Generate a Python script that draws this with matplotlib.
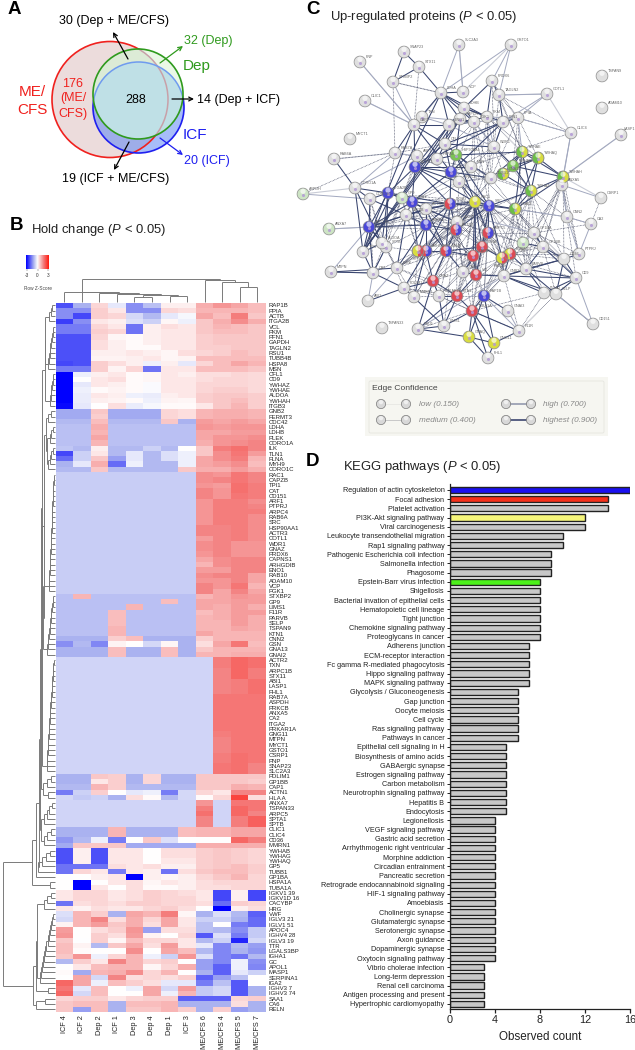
import matplotlib
matplotlib.use("Agg")
import matplotlib.pyplot as plt
import numpy as np
from matplotlib.collections import LineCollection
from matplotlib.colors import LinearSegmentedColormap
from matplotlib.patches import Circle, Rectangle, Wedge, FancyBboxPatch

plt.rcParams['font.family'] = ['Liberation Sans', 'DejaVu Sans']
plt.rcParams['mathtext.fontset'] = 'custom'
plt.rcParams['mathtext.it'] = 'Liberation Sans:italic'
plt.rcParams['mathtext.rm'] = 'Liberation Sans'

### Data ###

# KEGG bars
pathways = ["Regulation of actin cytoskeleton", "Focal adhesion", "Platelet activation",
            "PI3K-Akt signaling pathway", "Viral carcinogenesis", "Leukocyte transendothelial migration",
            "Rap1 signaling pathway", "Pathogenic Escherichia coli infection", "Salmonella infection",
            "Phagosome", "Epstein-Barr virus infection", "Shigellosis",
            "Bacterial invation of epithelial cells", "Hematopoietic cell lineage", "Tight junction",
            "Chemokine signaling pathway", "Proteoglycans in cancer", "Adherens junction",
            "ECM-receptor interaction", "Fc gamma R-mediated phagocytosis", "Hippo signaling pathway",
            "MAPK signaling pathway", "Glycolysis / Gluconeogenesis", "Gap junction", "Oocyte meiosis",
            "Cell cycle", "Ras signaling pathway", "Pathways in cancer", "Epithelial cell signaling in H",
            "Biosynthesis of amino acids", "GABAergic synapse", "Estrogen signaling pathway",
            "Carbon metabolism", "Neurotrophin signaling pathway", "Hepatitis B", "Endocytosis",
            "Legionellosis", "VEGF signaling pathway", "Gastric acid secretion",
            "Arrhythmogenic right ventricular", "Morphine addiction", "Circadian entrainment",
            "Pancreatic secretion", "Retrograde endocannabinoid signaling", "HIF-1 signaling pathway",
            "Amoebiasis", "Cholinergic synapse", "Glutamatergic synapse", "Serotonergic synapse",
            "Axon guidance", "Dopaminergic synapse", "Oxytocin signaling pathway",
            "Vibrio cholerae infection", "Long-term depression", "Renal cell carcinoma",
            "Antigen processing and present", "Hypertrophic cardiomyopathy"]
pathway_counts = [16, 14, 14, 12, 12, 10, 10, 9, 9, 9, 8, 8, 8, 8, 8, 8, 8, 7, 7, 7, 7, 7,
                  6, 6, 6, 6, 6, 6, 5, 5, 5, 5, 5, 5, 5, 5, 4, 4, 4, 4, 4, 4, 4, 4, 4, 4, 4, 4,
                  4, 4, 4, 4, 3, 3, 3, 3, 3]
highlighted = {"Regulation of actin cytoskeleton": "#1a10f0", "Focal adhesion": "#f5301a",
               "PI3K-Akt signaling pathway": "#f4f47a", "Epstein-Barr virus infection": "#4cf01a"}

# heatmap
samples = ["ICF 4", "ICF 2", "Dep 2", "ICF 1", "Dep 3", "Dep 4", "Dep 1", "ICF 3",
           "ME/CFS 6", "ME/CFS 4", "ME/CFS 5", "ME/CFS 7"]
proteins = ["RAP1B", "PPIA", "ACTB", "ITGA2B", "VCL", "PKM", "PFN1", "GAPDH", "TAGLN2", "RSU1", "TUBB4B",
            "HSPA8", "MSN", "CFL1", "CD9", "YWHAZ", "YWHAE", "ALDOA", "YWHAH", "ITGB3", "GNB2", "FERMT3",
            "CDC42", "LDHA", "LDHB", "PLEK", "CORO1A", "ILK", "TLN1", "FLNA", "MYH9", "CORO1C", "RAC1",
            "CAPZB", "TPI1", "CAT", "CD151", "ARF1", "PTPRJ", "ARPC4", "RAB6A", "SRC", "HSP90AA1", "ACTR3",
            "COTL1", "WDR1", "GNAZ", "PRDX6", "CAPNS1", "ARHGDIB", "ENO1", "RAB10", "ADAM10", "VCP", "PGK1",
            "STXBP2", "GP9", "LIMS1", "F11R", "PARVB", "SELP", "TSPAN9", "KTN1", "CNN2", "GSN", "GNA13",
            "GNAI2", "ACTR2", "TXN", "ARPC1B", "STX11", "ABI1", "LASP1", "FHL1", "RAB7A", "ASPDH", "PRKCB",
            "ANXA5", "CA2", "ITGA2", "PRKAR1A", "GNG11", "MTPN", "MYCT1", "GSTO1", "CSRP1", "PNP", "SNAP23",
            "SLC2A3", "PDLIM1", "GP1BB", "CAP1", "ACTN1", "HLA A", "ANXA7", "TSPAN33", "ARPC5", "SPTA1",
            "SPTB", "CLIC1", "CLIC4", "CD36", "MMRN1", "YWHAB", "YWHAG", "YWHAQ", "GP5", "TUBB1", "GP1BA",
            "HSPA1A", "TUBA1A", "IGKV1 39", "IGKV1D 16", "CACYBP", "HRG", "VWF", "IGLV3 21", "IGLV1 51",
            "APOC4", "IGHV4 28", "IGLV3 19", "TTR", "LGALS3BP", "IGHA1", "GC", "APOL1", "MASP1", "SERPINA1",
            "IGA2", "IGHV3 7", "IGHV3 74", "SAA1", "CA6", "RELN"]
z_scores = [
    [-2.1, -1.0, .5, -.3, -1.4, -.8, .2, .2, 1.0, 1.3, 1.1, .8],
    [-1.4, -1.4, .6, .3, -1.4, -1.4, .5, .4, .9, .9, .9, .8],
    [-1.4, -2.2, .6, .5, -.5, -.9, -.3, -.1, 1.1, .8, 1.6, .7],
    [-2.3, -1.4, .3, .2, -.4, -.6, .1, -.2, .7, 1.0, 1.4, 1.0],
    [-1.6, -1.6, .5, .3, -1.7, .2, .4, .3, .7, .9, .8, .7],
    [-1.6, -1.6, .6, .5, -1.7, .2, .3, .3, .7, .8, .8, .7],
    [-2.1, -2.1, .5, .1, .05, .2, .3, .3, .6, .7, .7, .7],
    [-2.1, -2.1, .4, .2, .05, .2, .3, .3, .6, .7, .7, .7],
    [-2.1, -2.1, .4, .2, .05, .05, .3, .3, .6, .6, .7, .7],
    [-2.1, -2.1, .2, .2, .3, .2, .1, .4, .5, .6, .8, .7],
    [-2.1, -2.1, .15, .15, .2, .3, .1, .15, .8, .8, .8, .8],
    [-2.2, -2.1, .6, .4, .2, -.2, .2, -.3, .5, .8, 1.1, .9],
    [-1.6, -1.6, .6, .15, .5, -1.7, .3, .3, .8, .8, .8, .7],
    [-3, -.2, .2, .3, .05, .1, .3, .2, .4, .4, .5, .45],
    [-3, .02, .3, .4, .05, .1, .3, .3, .4, .5, .5, .45],
    [-3, -.3, .3, .2, .05, -.05, .3, .3, .5, .5, .5, .45],
    [-3, -.2, .05, .15, .05, -.05, .3, .3, .5, .6, .6, .45],
    [-3, -.25, .3, .2, -.2, -.25, .2, .3, .6, .7, .7, .6],
    [-3, -.25, .2, .15, .05, -.2, .15, .1, .6, .7, .8, .6],
    [-2.9, -.3, .02, .4, -.25, -.1, .05, .05, .3, .7, .9, .6],
    [-1.1, -1.1, .7, -1.1, -1.1, -1.1, .5, .4, .9, 1.0, 1.0, .9],
    [-1.1, -1.1, .6, -1.1, -1.1, -1.1, .5, .4, .9, 1.0, 1.0, .9],
    [-.9, -.9, .8, -.9, -.9, -.9, .7, -1.0, 1.2, 1.1, 1.2, 1.1],
    [-.8, -.8, 1.0, -.8, -.8, -.8, -.8, -.8, 1.3, 1.2, 1.3, 1.3],
    [-.8, -.8, .9, -.8, -.8, -.8, -.8, -.8, 1.1, 1.1, 1.2, 1.2],
    [-.8, -.8, 1.1, -.8, -.8, -.8, -.8, -.8, 1.1, 1.3, 1.3, 1.4],
    [-.8, -.8, .9, -.8, -.8, -.8, -.8, -.8, 1.0, 1.3, 1.4, 1.5],
    [-.75, -.9, .2, -.9, -.9, -.6, -.9, .0, .7, 1.6, 1.8, 1.5],
    [-2.2, -.6, .3, -.9, -.3, -.9, -.4, -.2, .7, 1.4, 1.7, 1.2],
    [-1.8, -.6, .7, -1.2, -.3, -.9, -.4, -.2, 1.1, 1.4, 1.6, .9],
    [-1.0, -.3, 1.0, -1.8, -.2, -.9, -.9, -.2, 1.1, 1.2, 1.4, .8],
    [-.9, -.9, .7, -.9, -.9, -.9, -.9, .7, 1.0, 1.0, 1.2, 1.0],
    [-.65, -.65, -.65, -.65, -.65, -.65, -.65, -.65, 1.4, 1.3, 1.7, 1.5],
    [-.65, -.65, -.65, -.65, -.65, -.65, -.65, -.65, 1.4, 1.5, 1.7, 1.5],
    [-.65, -.65, -.65, -.65, -.65, -.65, -.65, -.65, 1.3, 1.2, 1.8, 1.6],
    [-.65, -.65, -.65, -.65, -.65, -.65, -.65, -.65, 1.5, 1.3, 1.8, 1.6],
    [-.65, -.65, -.65, -.65, -.65, -.65, -.65, -.65, 1.5, 1.3, 1.7, 1.6],
    [-.65, -.65, -.65, -.65, -.65, -.65, -.65, -.65, 1.3, 1.6, 1.6, 1.4],
    [-.65, -.65, -.65, -.65, -.65, -.65, -.65, -.65, 1.3, 1.6, 1.6, 1.5],
    [-.65, -.65, -.65, -.65, -.65, -.65, -.65, -.65, 1.3, 1.6, 1.6, 1.6],
    [-.65, -.65, -.65, -.65, -.65, -.65, -.65, -.65, 1.3, 1.6, 1.6, 1.4],
    [-.65, -.65, -.65, -.65, -.65, -.65, -.65, -.65, 1.3, 1.6, 1.6, 1.4],
    [-.65, -.65, -.65, -.65, -.65, -.65, -.65, -.65, 1.5, 1.5, 1.6, 1.4],
    [-.65, -.65, -.65, -.65, -.65, -.65, -.65, -.65, 1.5, 1.5, 1.6, 1.4],
    [-.65, -.65, -.65, -.65, -.65, -.65, -.65, -.65, 1.2, 1.5, 1.6, 1.4],
    [-.65, -.65, -.65, -.65, -.65, -.65, -.65, -.65, 1.4, 1.5, 1.3, 1.3],
    [-.65, -.65, -.65, -.65, -.65, -.65, -.65, -.65, 1.4, 1.5, 1.3, 1.3],
    [-.65, -.65, -.65, -.65, -.65, -.65, -.65, -.65, 1.3, 1.5, 1.3, 1.3],
    [-.65, -.65, -.65, -.65, -.65, -.65, -.65, -.65, 1.1, 1.4, 1.5, 1.5],
    [-.65, -.65, -.65, -.65, -.65, -.65, -.65, -.65, .9, 1.4, 1.5, 1.5],
    [-.65, -.65, -.65, -.65, -.65, -.65, -.65, -.65, 1.2, 1.2, 1.5, 1.5],
    [-.65, -.65, -.65, -.65, -.65, -.65, -.65, -.65, 1.4, 1.5, 1.5, 1.1],
    [-.65, -.65, -.65, -.65, -.65, -.65, -.65, -.65, 1.3, 1.3, 1.5, 1.1],
    [-.65, -.65, -.65, -.65, -.65, -.65, -.65, -.65, 1.5, 1.3, 1.7, .9],
    [-.65, -.65, -.65, -.65, -.65, -.65, -.65, -.65, 1.5, 1.1, 1.5, 1.1],
    [-.8, .9, -.8, -.8, -.8, -.8, -.8, -.8, .9, 1.1, 1.3, 1.2],
    [-.8, -.8, -.8, -.8, -.8, -.8, .8, -.8, 1.1, 1.1, 1.2, 1.2],
    [-.8, -.8, -.8, -.8, .9, -.8, -.8, -.8, 1.1, 1.0, 1.2, 1.0],
    [-.8, -.8, -.8, .8, -.8, -.8, -.8, -.8, .8, 1.0, 1.2, 1.2],
    [-.8, -.8, -.8, .8, -.8, -.8, -.8, -.8, .9, 1.0, 1.2, 1.0],
    [-.8, -.8, -.8, .8, -.8, -.8, -.8, -.8, .9, .9, 1.2, 1.0],
    [-.8, -.8, -.8, .9, -.8, -.8, -.8, -.8, .9, .9, 1.1, 1.0],
    [-.8, -.8, -.8, .9, -.8, -.8, -.8, -.8, 1.1, .9, .9, .9],
    [-1.0, -1.0, -1.0, .6, .8, -1.0, -1.0, -1.0, .6, .9, .9, .9],
    [-1.4, -.9, -1.5, .15, .02, -.5, .1, -1.0, .4, 1.1, 1.7, .8],
    [-1.0, -1.0, -1.0, .8, -1.0, -1.0, .8, -1.0, .7, .9, .9, .9],
    [-1.0, -1.0, -1.0, .8, -1.0, -1.0, .8, -1.0, .9, .9, 1.0, 1.0],
    [-.55, -.55, -.55, -.55, -.55, -.55, -.55, -.55, -.55, 1.6, 1.9, 1.8],
    [-.55, -.55, -.55, -.55, -.55, -.55, -.55, -.55, -.55, 1.6, 1.9, 1.8],
    [-.55, -.55, -.55, -.55, -.55, -.55, -.55, -.55, -.55, 1.5, 1.9, 1.6],
    [-.55, -.55, -.55, -.55, -.55, -.55, -.55, -.55, -.55, 1.5, 1.9, 1.6],
    [-.55, -.55, -.55, -.55, -.55, -.55, -.55, -.55, -.55, 1.5, 1.6, 1.8],
    [-.55, -.55, -.55, -.55, -.55, -.55, -.55, -.55, -.55, 1.5, 1.6, 1.8],
    [-.55, -.55, -.55, -.55, -.55, -.55, -.55, -.55, -.55, 1.5, 1.6, 1.8],
    [-.55, -.55, -.55, -.55, -.55, -.55, -.55, -.55, -.55, 1.7, 1.7, 1.7],
    [-.55, -.55, -.55, -.55, -.55, -.55, -.55, -.55, -.55, 1.7, 1.7, 1.7],
    [-.55, -.55, -.55, -.55, -.55, -.55, -.55, -.55, -.55, 1.7, 1.7, 1.7],
    [-.55, -.55, -.55, -.55, -.55, -.55, -.55, -.55, -.55, 1.7, 1.7, 1.7],
    [-.55, -.55, -.55, -.55, -.55, -.55, -.55, -.55, -.55, 1.7, 1.7, 1.7],
    [-.55, -.55, -.55, -.55, -.55, -.55, -.55, -.55, -.55, 1.7, 1.7, 1.7],
    [-.55, -.55, -.55, -.55, -.55, -.55, -.55, -.55, -.55, 1.7, 1.7, 1.7],
    [-.55, -.55, -.55, -.55, -.55, -.55, -.55, -.55, -.55, 1.6, 1.7, 1.7],
    [-.55, -.55, -.55, -.55, -.55, -.55, -.55, -.55, -.55, 1.5, 1.7, 1.7],
    [-.55, -.55, -.55, -.55, -.55, -.55, -.55, -.55, -.55, 1.5, 1.7, 1.7],
    [-.55, -.55, -.55, -.55, -.55, -.55, -.55, -.55, -.55, 1.5, 1.7, 1.7],
    [-.55, -.55, -.55, -.55, -.55, -.55, -.55, -.55, -.55, 1.6, 1.8, 1.7],
    [-.55, -.55, -.55, -.55, -.55, -.55, -.55, -.55, -.55, 1.6, 1.8, 1.7],
    [-.55, -.55, -.55, -.55, -.55, -.55, -.55, -.55, -.55, 1.7, 1.8, 1.5],
    [-.55, -.55, -.55, -.55, -.55, -.55, -.55, -.55, -.55, 1.7, 1.8, 1.5],
    [-1.0, -1.0, .7, .6, -1.0, .5, -1.0, -1.0, .7, .7, .7, .7],
    [-1.0, -1.0, .3, .6, -1.0, .5, -1.0, -1.0, .7, .7, .7, .6],
    [-.9, -.9, .9, .6, -.9, -.9, -.9, -.9, .7, .7, 1.0, .9],
    [-1.6, -.6, .6, .02, -.3, -.2, -1.6, -.5, .5, .3, 1.5, 1.5],
    [-.5, -.7, -.6, -1.0, .4, .05, -.9, -.5, .05, .5, 2.4, .4],
    [-.55, -.55, -.55, -.55, -.55, -.55, -.55, -.55, 1.3, -.55, 1.7, 1.7],
    [-.55, -.55, -.55, -.55, -.55, -.55, -.55, -.55, 1.6, -.55, 1.9, 1.7],
    [-.55, -.55, -.55, -.55, -.55, -.55, -.55, -.55, 1.8, -.55, 1.9, 1.5],
    [-.55, -.55, -.55, -.55, -.55, -.55, -.55, -.55, 1.5, -.55, 1.6, 2.0],
    [-.55, -.55, -.55, -.55, -.55, -.55, -.55, -.55, 1.5, -.55, 1.6, 2.0],
    [-1.0, -1.0, -1.0, .9, -1.0, -1.0, -1.0, .8, .9, .9, 1.1, 1.1],
    [-1.0, -1.0, -1.0, .9, -1.0, -1.0, -1.0, .8, .9, .9, 1.1, 1.1],
    [-1.3, -.9, -.2, -1.6, .02, .7, -.4, .0, .0, .0, 1.9, 1.6],
    [-1.1, .7, .7, .7, -1.1, -1.1, -1.1, -1.1, 1.0, 1.0, 1.0, 1.0],
    [-2.1, .2, -2.1, .3, .3, .02, .4, .4, .6, .7, .6, .5],
    [-2.1, .2, -2.1, .3, .3, .02, .4, .4, .6, .7, .6, .5],
    [-2.1, .2, -2.1, .3, .3, .02, .3, .3, .6, .7, .6, .5],
    [-1.7, -1.7, -1.7, .4, .3, .4, .2, .2, .6, .7, .8, .6],
    [-1.7, .5, .3, -1.6, .3, .2, -1.7, .4, .7, .8, .8, .6],
    [.02, .02, .2, .3, -3, .2, .1, .2, .5, .7, .9, .5],
    [.02, -3, .02, .3, .4, .1, .3, .2, .4, .5, .5, .5],
    [.02, -3, .3, .02, .4, .05, .05, .2, .4, .4, .5, .5],
    [.3, .5, .5, .3, .4, .6, .5, .4, .3, -2.2, .2, -2.2],
    [.3, .5, .5, .3, .4, .6, .5, .5, .3, -2.2, .2, -2.2],
    [-1.7, .4, .5, .4, .6, .6, .5, .5, .4, -1.8, .6, .5],
    [.3, .15, .4, .3, .3, .5, .6, .4, .02, -3, .2, .4],
    [-.4, .9, .6, -1.0, 1.1, .9, 1.6, .1, -1.0, -.4, -.9, -1.9],
    [-.5, .9, 1.5, .4, 1.0, .5, 1.1, .3, -.6, -.6, -1.0, -1.8],
    [.15, .9, 1.2, .7, 1.0, .4, 1.1, .3, -.8, .0, -1.6, -1.8],
    [1.2, .02, .4, .6, 1.3, -1.2, .4, .4, -.8, -.9, -1.4, -.7],
    [1.3, .02, .6, .4, 1.2, .15, .02, .5, -2.0, -.4, -1.6, -.7],
    [.7, -.02, .6, .1, .8, .5, .5, .3, -.9, -.6, -2.6, -.5],
    [.8, .15, -.9, .7, 1.1, .4, 1.2, .3, -.3, -1.5, -.9, -1.2],
    [.8, .05, .02, .02, 1.4, .02, 1.1, .8, -.9, -1.5, -1.0, -1.3],
    [.7, 1.3, -.2, .5, .9, -.2, -.6, 1.3, -.4, -1.5, -1.7, -.9],
    [-.9, .6, .3, 1.5, .9, .5, .6, .02, -1.2, -1.5, -.2, -1.4],
    [.02, .3, .8, .9, .9, .1, .5, 1.0, -1.2, -1.9, -.2, -1.5],
    [.05, -1.1, .9, 1.0, 1.4, .5, .9, .02, -1.0, -1.9, -.3, -.6],
    [.02, 1.1, -.5, 1.5, .4, .5, .4, .6, -1.9, -1.2, -.8, .0],
    [1.9, 1.1, -.2, .8, .6, .4, -.3, -.3, -1.6, -.8, -2.0, .0],
    [1.7, -.3, .8, .02, -.2, 1.1, -.5, 1.2, -.7, -.5, -2.0, -1.0],
    [1.9, -.5, .8, .02, .02, 1.1, -.2, .9, -.7, -.5, -2.0, -1.0],
    [.5, .6, .6, .3, .5, .6, .6, -1.9, -1.9, -1.9, .5, .6],
    [.7, .8, .8, -1.0, .8, .8, .9, -1.0, -1.0, -1.0, .4, -1.0],
    [.7, -1.2, .8, -1.0, .7, .7, .9, .6, -1.0, .6, -1.2, -1.0],
]

# network groups and edges (STRING picture)
blue_nodes = ["ACTN1", "ILK", "ITGA2B", "TLN1", "ARPC1B", "ARPC4", "SRC", "RAP1B"]
red_nodes = ["KTN1", "VCL", "GNAZ", "FLNA", "CAPNS1", "TUBA1A"]
yellow_nodes = ["RAC1", "GNAQ", "GNG11"]
green_nodes = ["HSP90AA1", "YWHAB"]
pale_green_nodes = ["ASPDH", "ANXA7", "GP9", "GP5"]
green_yellow_nodes = ["YWHAE", "YWHAQ", "YWHAZ", "GNA13", "GNAI2", "YWHAH"]
red_blue_nodes = ["ITGB3", "ACTR2", "ARPC5", "MYH9", "ARHGDIB"]
yellow_red_nodes = ["SPTA1", "RAB10", "FERMT3"]
plain_nodes = ["TSPAN9", "ADAM10", "MYCT1", "CSRP1", "TSPAN33", "CD151", "CD36", "SELP", "ITGA2", "ABI1"]

strong_edges = {
    "SNAP23": ["STX11", "STXBP2"], "STX11": ["STXBP2", "LDHA"], "RAB6A": ["CORO1A"],
    "LDHA": ["LDHB", "ENO1", "TPI1", "GAPDH", "PGK1", "PKM", "CAP1", "VCP"],
    "LDHB": ["ENO1", "TPI1", "GAPDH", "PGK1", "PKM", "PFN1"], "GAPDH": ["ENO1", "PGK1", "TPI1", "CFL1", "HSP90AA1"],
    "ENO1": ["PGK1", "TPI1", "CAP1", "CFL1", "ACTN1", "PKM"], "PRDX6": ["TAGLN2", "PKM", "LDHB"],
    "PFN1": ["ACTN1", "CFL1", "ILK", "WDR1", "TAGLN2", "PPIA"], "CAP1": ["CFL1", "RAB7A", "TPI1", "ACTN1", "ILK"],
    "CFL1": ["ACTN1", "ILK", "HSPA8", "WDR1", "MSN"], "HSP90AA1": ["ILK", "SRC", "RAC1", "TUBB1", "HSPA8", "YWHAE"],
    "YWHAE": ["YWHAQ", "YWHAB", "YWHAZ", "GNA13", "YWHAH", "GNAI2", "TUBB1"], "YWHAQ": ["YWHAB", "YWHAZ", "GNA13", "YWHAH", "GNAI2"],
    "YWHAB": ["YWHAZ", "GNA13", "YWHAH", "WDR1"], "YWHAZ": ["GNAI2", "GNA13", "YWHAH", "SRC"], "YWHAH": ["GNAI2", "ANXA5"],
    "ACTN1": ["ITGB3", "TLN1", "ILK", "ITGA2B", "RAC1", "MSN", "PRKCB"], "ILK": ["ITGB3", "TLN1", "RAC1", "SRC", "PRKCB", "TUBB1"],
    "ITGB3": ["TLN1", "ITGA2B", "RAC1", "SRC", "ARPC4", "ACTR2", "MYH9", "ARHGDIB", "CAPZB", "ACTR3"],
    "TLN1": ["ITGA2B", "GP9", "ARPC4", "ARPC1B", "CAPZB", "ACTR3", "SPTA1"], "ITGA2B": ["GP9", "ARPC1B", "ALDOA", "SPTB", "CORO1C", "CORO1A"],
    "RAC1": ["SRC", "GNAI2", "ACTR2", "ARPC5", "CAPNS1", "FLNA", "VCL", "CDC42"], "SRC": ["ACTR2", "ARPC5", "FLNA", "GNAI2", "RAB10"],
    "ARPC1B": ["CORO1C", "ALDOA", "SPTB", "TPI1", "CAT", "ACTR3", "CAPZB", "ARPC4"], "ARPC4": ["ACTR3", "CAPZB", "SPTA1", "ARHGDIB", "MYH9", "ACTR2", "PLEK"],
    "ACTR3": ["CAPZB", "MYH9", "CDC42", "GP9"], "ARHGDIB": ["SPTA1", "GNAZ", "MYH9", "PDLIM1", "MMRN1"], "MYH9": ["GNAZ", "CAPNS1", "FLNA", "GSN", "ACTR2"],
    "FLNA": ["CAPNS1", "VCL", "GSN", "RAB10", "ARPC5"], "VCL": ["GSN", "KTN1", "CAPNS1", "GNB2"], "KTN1": ["GNAZ", "TUBA1A", "LIMS1", "RSU1", "PRKAR1A"],
    "TUBA1A": ["GNAQ", "GNG11", "RAP1B", "LIMS1", "F11R", "FHL1"], "RAP1B": ["GNG11", "GNAQ", "GNAI3"], "GNAQ": ["GNG11", "FHL1", "RSU1"], "GNG11": ["FHL1", "F11R"],
    "GNAZ": ["RSU1", "PRKAR1A", "PDLIM1"], "LIMS1": ["RSU1", "PDLIM1", "PRKAR1A"], "CAT": ["SPTB", "TPI1", "MTPN"], "TPI1": ["ALDOA", "CORO1A"],
    "PDLIM1": ["ABI1", "CAT"], "MTPN": ["PLEK"], "GP1BB": ["CD36", "GP1BA", "GP5", "CD9", "PARVB"], "CD36": ["CD9", "PARVB", "PTPRJ", "SELP"],
    "CD9": ["SELP", "ITGA2", "PARVB", "GNB2"], "PARVB": ["GNB2", "SELP", "ITGA2", "FERMT3"], "GNB2": ["SELP", "ITGA2", "RAB10", "CD36", "FERMT3"],
    "CORO1A": ["ALDOA", "CORO1C"], "CAPZB": ["CORO1C", "PLEK"],
}
medium_edges = {
    "SLC2A3": ["LDHA", "VCP"], "GSTO1": ["LDHA", "PRDX6", "TAGLN2"], "COTL1": ["TAGLN2", "PFN1", "PPIA"], "PNP": ["CAP1"],
    "CLIC1": ["CAP1"], "CLIC4": ["PPIA", "ANXA5"], "STXBP2": ["CAP1"], "RAB7A": ["CORO1A", "ARF1"], "ARF1": ["ACTN1", "ILK", "CORO1A"],
    "YWHAH": ["CLIC4"], "ANXA5": ["CNN2", "CSRP1"], "CNN2": ["GNAI2", "PTPRJ", "CA2"], "PTPRJ": ["CA2"], "TXN": ["LDHA", "ENO1", "PGK1"],
    "CORO1C": ["ASPDH"], "ANXA7": ["ARPC1B"], "MTPN": ["ARPC1B", "CAT"], "ABI1": ["PLEK", "CAT"], "F11R": ["GNAI3", "RAP1B"], "RSU1": ["GNB2"],
    "WDR1": ["PFN1", "PGK1", "PKM", "ENO1"], "PPIA": ["PKM", "PGK1", "YWHAE"], "LASP1": ["YWHAH"], "GP1BA": ["GP5", "GP9"],
    "CD151": ["SELP", "CD9"],
}
dotted_edges = {
    "RAB7A": ["RAB6A", "ASPDH", "CFL1", "ITGA2B", "MSN"], "STXBP2": ["RAB7A", "LDHA"], "STX11": ["CAP1"],
    "CLIC4": ["ILK", "TAGLN2", "PPIA"], "PRDX6": ["WDR1", "PPIA", "YWHAE"], "TAGLN2": ["WDR1", "PFN1", "YWHAE", "PPIA"],
    "PGK1": ["ILK", "TUBB1", "MSN", "YWHAB", "SRC", "RAC1", "HSPA8"], "PKM": ["YWHAE", "SRC", "TUBB1", "RAC1", "YWHAQ"], "PPIA": ["YWHAB", "YWHAQ", "TUBB1", "GP5"],
    "SRC": ["CDC42", "GNB2", "MYH9", "GSN", "GP1BA", "GP5", "GP1BB", "VCL", "TUBA1A", "ARPC1B", "KTN1", "ARPC4", "RAP1B", "PARVB", "CAPZB", "PLEK", "GNAZ", "FERMT3", "CD36"],
    "RAC1": ["ARPC4", "ACTR3", "MYH9", "ARHGDIB", "SPTA1", "GNAZ", "GSN", "KTN1", "PLEK", "RAB10", "CAPZB", "GP9", "ITGA2B", "SPTB", "ARPC1B", "TUBA1A", "PDLIM1", "MMRN1", "GNB2"],
    "ACTR2": ["ARHGDIB", "SPTA1", "CAPZB", "GNAZ", "GSN", "VCL", "KTN1", "PRKAR1A", "MMRN1", "ACTR3", "ARPC1B", "CDC42", "ARPC5", "RAB10", "TUBA1A", "RAP1B", "LIMS1", "PLEK"],
    "CDC42": ["ACTR3", "CAPZB", "ARPC1B", "ARHGDIB", "SPTA1", "GNAZ", "ARPC5", "RAB10", "YWHAZ", "GP5", "GNAI2", "TLN1", "ITGB3", "FLNA", "GSN", "PLEK"],
    "ARPC5": ["RAB10", "FERMT3", "GNB2", "VCL", "GNAI2", "GP1BA", "CAPNS1", "GSN", "PRKCB", "GP5", "TUBA1A", "RAP1B", "KTN1", "GNAZ"],
    "GNAI2": ["GP1BA", "GP5", "RAB10", "FERMT3", "PARVB", "GP1BB", "GNB2", "CD36", "CNN2", "RAP1B", "CD9"],
    "YWHAZ": ["GP1BA", "CNN2", "GP5", "PARVB", "CD36", "GP1BB", "RAB10", "FERMT3"], "YWHAH": ["CD36", "PTPRJ", "GP1BB", "CNN2", "GP1BA", "PARVB"],
    "ANXA5": ["GP1BA", "GP1BB", "PTPRJ", "CD9", "GP5"], "RAB10": ["VCL", "GNAZ", "KTN1", "TUBA1A", "PARVB", "CD9", "RAP1B", "GP5"], "FERMT3": ["CD36", "GP5", "GP1BB", "RAP1B", "PTPRJ"],
    "CAPNS1": ["GNAZ", "KTN1", "GSN", "PRKAR1A", "RAP1B", "SPTA1", "CAPZB", "ACTR3"], "KTN1": ["GSN", "PRKAR1A", "RAP1B", "PDLIM1"], "PRKAR1A": ["GSN", "PDLIM1", "MMRN1", "TUBA1A", "GNAZ"],
    "PLEK": ["SPTA1", "SPTB", "ALDOA", "ARHGDIB", "MYH9", "GNAZ", "MMRN1", "KTN1"], "SPTA1": ["GNAZ", "SPTB", "CAT", "MMRN1", "GP9", "CAPZB"], "SPTB": ["CAT", "GP9", "CAPZB", "PDLIM1"],
    "GP1BA": ["PTPRJ", "GP1BB", "CA2", "PARVB"], "GP5": ["GP1BB", "PARVB", "CD36", "GNB2"], "SELP": ["CD151", "CD9", "GP1BB", "F11R"], "ITGA2": ["F11R", "TUBA1A", "GP5"],
    "MSN": ["WDR1", "TUBB1", "YWHAZ", "CDC42", "PRKCB", "TLN1", "GNAI2"], "PRKCB": ["TUBB1", "SRC", "TLN1", "ACTR3", "GNA13", "ARPC5", "CDC42"], "TUBB1": ["GNAI2", "CDC42", "ACTR2", "YWHAZ"],
    "WDR1": ["RAC1", "TUBB1", "YWHAZ", "GNA13", "ILK"], "GP9": ["ARF1", "ACTN1", "CAT", "ALDOA", "CAPZB", "ACTR3"], "CORO1C": ["ALDOA", "SPTB", "CAT"], "CA2": ["CSRP1", "CNN2"],
    "TUBA1A": ["RSU1", "PRKAR1A", "F11R"], "GNB2": ["TUBA1A", "RAP1B", "KTN1", "F11R", "GSN"],
}
pale_edges = [("PNP", "CAP1"), ("CLIC1", "CAP1"), ("ASPDH", "CORO1A"), ("ANXA7", "ARPC1B"), ("LASP1", "YWHAH"),
              ("CD151", "SELP"), ("CSRP1", "YWHAH"), ("CLIC4", "COTL1"), ("GSTO1", "VCP"), ("SLC2A3", "VCP"),
              ("TAGLN2", "COTL1"), ("RAB6A", "RAB7A"), ("STXBP2", "LDHA")]

# venn labels
venn_black = ["30 (Dep + ME/CFS)", "14 (Dep + ICF)", "19 (ICF + ME/CFS)"]
venn_center = "288"
venn_me = ["176", "(ME/", "CFS)"]
venn_dep = "32 (Dep)"
venn_icf = "20 (ICF)"

confidence_labels = ["low (0.150)", "medium (0.400)", "high (0.700)", "highest (0.900)"]

### Layout (picture pixels) ###

W, H = 635, 1050
fig = plt.figure(figsize=(6.35, 10.5), dpi=100)


def px_axes(x0, y0, x1, y1):
    return fig.add_axes([x0 / W, 1 - y1 / H, (x1 - x0) / W, (y1 - y0) / H])


bg = fig.add_axes([0, 0, 1, 1])
bg.set_xlim(0, W)
bg.set_ylim(H, 0)
bg.axis("off")

### A: venn ###

red, green, blue = "#f0211e", "#2f9a1d", "#1f1ff0"
red_xy, red_r = (110, 99.5), 58
blue_xy, blue_r = (138.5, 107.5), 45.5
green_xy, green_r = (138, 94), 45

bg.add_patch(Circle(red_xy, red_r, fc="#ecdcdc", ec="none", zorder=1))
bg.add_patch(Circle(blue_xy, blue_r, fc="#5f88f5", alpha=0.55, ec="none", zorder=2))
green_c = Circle(green_xy, green_r, fc="#eaf8e6", ec="none", zorder=3)
bg.add_patch(green_c)
bg.add_patch(Circle(red_xy, red_r, fc="none", ec=red, lw=1.2, zorder=2.9))
bg.add_patch(Circle(blue_xy, blue_r, fc="none", ec=blue, lw=1.2, zorder=2.9))


def inside_green(xy, r, z, **kw):
    # part of a circle seen through the green one
    patch = Circle(xy, r, zorder=z, **kw)
    bg.add_patch(patch)
    patch.set_clip_path(green_c)


inside_green(red_xy, red_r, 3.1, fc="#dcebd6", ec="none")
inside_green(blue_xy, blue_r, 3.2, fc="#bfe0e6", ec="none")
inside_green(red_xy, red_r, 3.3, fc="none", ec="#c8a0a8", lw=1.1)
inside_green(blue_xy, blue_r, 3.3, fc="none", ec="#6f9bef", lw=1.1)
bg.add_patch(Circle(green_xy, green_r, fc="none", ec=green, lw=1.2, zorder=3.4))


def arrow(x0, y0, x1, y1, color="black"):
    bg.annotate("", xy=(x1, y1), xytext=(x0, y0), zorder=6,
                arrowprops=dict(arrowstyle="->", color=color, lw=0.9, mutation_scale=7,
                                shrinkA=0, shrinkB=0))


arrow(128, 59, 113, 32)
arrow(160, 63, 183, 46, green)
arrow(172, 99, 194, 99)
arrow(160, 138, 183, 155, blue)
arrow(129, 142, 114, 170)

bg.text(59, 21, venn_black[0], fontsize=9, va="center", zorder=7)
bg.text(197, 100, venn_black[1], fontsize=9, va="center", zorder=7)
bg.text(62, 179, venn_black[2], fontsize=9, va="center", zorder=7)
bg.text(136, 100, venn_center, fontsize=9, va="center", ha="center", zorder=7)
bg.text(184, 41, venn_dep, fontsize=9, va="center", color=green, zorder=7)
bg.text(184, 161, venn_icf, fontsize=9, va="center", color=blue, zorder=7)
for lab, yy in zip(venn_me, [84, 98, 114]):
    bg.text(73, yy, lab, fontsize=9, va="center", ha="center", color=red, zorder=7)
bg.text(183, 66, "Dep", fontsize=11, va="center", color=green, zorder=7)
bg.text(183, 135, "ICF", fontsize=11, va="center", color=blue, zorder=7)
bg.text(19, 92, "ME/", fontsize=11, va="center", color=red, zorder=7)
bg.text(17, 110, "CFS", fontsize=11, va="center", color=red, zorder=7)

### panel letters and titles ###

for letter, xx, yy in [("A", 8, 9), ("B", 10, 225), ("C", 306, 9), ("D", 306, 462)]:
    bg.text(xx, yy, letter, fontsize=13.5, fontweight="bold", va="center", zorder=7)
bg.text(31, 230, r"Hold change ($\mathit{P}$ < 0.05)", fontsize=9.4, va="center", color="#222222")
bg.text(330, 17, r"Up-regulated proteins ($\mathit{P}$ < 0.05)", fontsize=9.4, va="center", color="#222222")
bg.text(343, 467, r"KEGG pathways ($\mathit{P}$ < 0.05)", fontsize=9.4, va="center", color="#222222")

### C: network ###

layout = {
    "PNP": (360, 62), "SNAP23": (404, 52), "STX11": (419, 67), "STXBP2": (393, 82), "SLC2A3": (459, 45),
    "GSTO1": (511, 45), "TSPAN9": (602, 76), "ADAM10": (602, 108), "PRDX6": (492, 81), "TAGLN2": (499, 95),
    "COTL1": (547, 94), "LDHA": (441, 93), "VCP": (463, 92), "CLIC1": (365, 101), "LDHB": (464, 108),
    "PPIA": (518, 118), "CLIC4": (571, 133), "LASP1": (621, 135), "MYCT1": (350, 139), "RAB6A": (334, 159),
    "RAB7A": (395, 153), "TXN": (422, 117), "CAP1": (414, 125), "ENO1": (449, 125), "PGK1": (474, 122),
    "PKM": (487, 117), "PFN1": (503, 122), "GAPDH": (460, 119), "YWHAE": (522, 152), "YWHAQ": (538, 158),
    "YWHAB": (513, 166), "GNA13": (503, 174), "YWHAH": (563, 177), "ANXA5": (562, 185), "YWHAZ": (531, 191),
    "GNAI2": (515, 209), "RAC1": (475, 202), "SRC": (489, 206), "ITGB3": (450, 204), "ACTN1": (415, 167),
    "ILK": (451, 172), "HSP90AA1": (456, 155), "CFL1": (445, 144), "ARF1": (417, 156), "HSPA8": (437, 159),
    "MSN": (471, 167), "TUBB1": (491, 178), "WDR1": (494, 147), "CORO1A": (355, 188), "CORO1C": (370, 199),
    "ITGA2B": (388, 193), "TLN1": (412, 202), "GP9": (402, 198), "CAPZB": (406, 215), "ACTR3": (426, 209),
    "CDC42": (457, 222), "PRKCB": (459, 182), "CSRP1": (601, 198), "CNN2": (567, 217), "CA2": (591, 224),
    "ASPDH": (303, 194), "ANXA7": (329, 229), "ARPC1B": (369, 227), "ARPC4": (426, 225), "ACTR2": (456, 230),
    "ARPC5": (488, 233), "GP1BA": (534, 233), "GP5": (523, 243), "GP1BB": (543, 247), "PTPRJ": (579, 254),
    "CD36": (564, 259), "CD9": (576, 278), "SELP": (556, 294), "ITGA2": (544, 293), "PARVB": (526, 269),
    "GNB2": (504, 276), "RAB10": (502, 258), "FERMT3": (510, 254), "FLNA": (482, 247), "CAPNS1": (473, 256),
    "MYH9": (446, 251), "ARHGDIB": (426, 251), "SPTA1": (418, 251), "SPTB": (386, 247), "TPI1": (363, 252),
    "ALDOA": (382, 243), "MTPN": (331, 272), "CAT": (373, 273), "PLEK": (397, 268), "PDLIM1": (404, 288),
    "MMRN1": (414, 297), "GNAZ": (433, 281), "VCL": (476, 275), "GSN": (463, 272), "KTN1": (457, 296),
    "RAP1B": (484, 296), "PRKAR1A": (439, 296), "ABI1": (368, 301), "TUBA1A": (472, 311), "GNAI3": (508, 311),
    "TSPAN33": (382, 328), "RSU1": (418, 329), "LIMS1": (444, 326), "F11R": (519, 331), "CD151": (593, 324),
    "GNAQ": (469, 337), "GNG11": (494, 343), "FHL1": (488, 358),
}
label_offset = {"SPTA1": (-5, 8), "LASP1": (3, -6), "RAB10": (-8, 8), "GP5": (-4, 8)}


def segments(edge_map):
    out = []
    for a, others in edge_map.items():
        for b in others:
            out.append((layout[a], layout[b]))
    return out


bg.add_collection(LineCollection([(layout[a], layout[b]) for a, b in pale_edges],
                                 colors="#c9ccd6", linewidths=0.8, zorder=1))
bg.add_collection(LineCollection(segments(dotted_edges), colors="#3f445e", linewidths=0.5,
                                 linestyles=(0, (1, 1.1)), zorder=1.1))
bg.add_collection(LineCollection(segments(medium_edges), colors="#a2a8bf", linewidths=0.7, zorder=1.2))
bg.add_collection(LineCollection(segments(strong_edges), colors="#39456f", linewidths=0.75, zorder=1.3))

fills = {}
for name in blue_nodes:
    fills[name] = ("#4a48d8", None)
for name in red_nodes:
    fills[name] = ("#dc4a55", None)
for name in yellow_nodes:
    fills[name] = ("#d8dc40", None)
for name in green_nodes:
    fills[name] = ("#7cc455", None)
for name in pale_green_nodes:
    fills[name] = ("#cde4c4", None)
for name in green_yellow_nodes:
    fills[name] = ("#6cbd48", "#d8dc40")
for name in red_blue_nodes:
    fills[name] = ("#dc4a55", "#4a48d8")
for name in yellow_red_nodes:
    fills[name] = ("#d8dc40", "#dc4a55")

R = 5.9
for name, (x, y) in layout.items():
    c1, c2 = fills.get(name, ("#dfdfdf", None))
    bg.add_patch(Circle((x, y), R, fc=c1, ec="#8c8c8c", lw=0.5, zorder=3))
    if c2:
        bg.add_patch(Wedge((x, y), R, 270, 90, fc=c2, ec="none", zorder=3.1))
        bg.add_patch(Circle((x, y), R, fc="none", ec="#8c8c8c", lw=0.5, zorder=3.2))
    bg.add_patch(Circle((x, y - 2.7), 2.6, fc="white", ec="none", alpha=0.65, zorder=3.3))
    if name not in plain_nodes:
        bg.scatter([x], [y + 0.5], s=5, color="#b39ad6", lw=0, alpha=0.85, zorder=3.4)
    dx, dy = label_offset.get(name, (6, -5))
    bg.text(x + dx, y + dy, name, fontsize=2.7, color="#666666", va="center", zorder=4)

# edge confidence box
bg.add_patch(Rectangle((365, 377), 243, 59, fc="#f6f6f1", ec="none", zorder=1))
bg.add_patch(FancyBboxPatch((369, 381), 235, 52, boxstyle="round,pad=0,rounding_size=1.5",
                            fc="#f6f6f1", ec="#e6e6e0", lw=0.6, zorder=1.1))
bg.text(372, 389, "Edge Confidence", fontsize=6.1, va="center", color="#444444", zorder=2)
conf_rows = [(381, 404, 419), (381, 420, 419), (506, 404, 543), (506, 420, 543)]
conf_style = [("#e4e4e0", 0.5), ("#c8c8c8", 0.7), ("#8c92a8", 1.1), ("#3c4670", 1.2)]
for lab, (x0, yy, xt), (col, lw) in zip(confidence_labels, conf_rows, conf_style):
    bg.plot([x0, x0 + 25], [yy, yy], color=col, lw=lw, zorder=2)
    for xx in (x0, x0 + 25):
        bg.add_patch(Circle((xx, yy), 4.6, fc="#d8d8d8", ec="#777777", lw=0.5, zorder=3))
        bg.add_patch(Circle((xx, yy - 1.8), 2.1, fc="white", ec="none", alpha=0.6, zorder=3.1))
    bg.text(xt, yy, lab, fontsize=5.9, style="italic", color="#888888", va="center", zorder=3)

### B: heatmap ###

blue_white_red = LinearSegmentedColormap.from_list(
    "bwr2", [(0, "#0000ff"), (1 / 3, "#aab2f0"), (0.5, "#ffffff"), (0.75, "#f38585"), (1, "#ff1a10")])

hm = px_axes(55.5, 302.7, 266, 1012)
hm.pcolormesh(np.array(z_scores), cmap=blue_white_red, vmin=-3, vmax=3)
hm.set_ylim(len(proteins), 0)
hm.yaxis.tick_right()
hm.set_yticks(np.arange(len(proteins)) + 0.5)
hm.set_yticklabels(proteins, fontsize=4.3, color="#222222")
hm.set_xticks(np.arange(len(samples)) + 0.5)
hm.set_xticklabels(samples, fontsize=5.3, rotation=90, color="#222222")
hm.tick_params(length=0, pad=2)
hm.tick_params(axis="x", pad=2.5)
for s in hm.spines.values():
    s.set_visible(False)

# colour key
key = px_axes(26, 255, 49, 269)
key.imshow(np.linspace(-3, 3, 64)[None, :], cmap=blue_white_red, aspect="auto", extent=[-3.3, 3.3, 0, 1])
key.set_yticks([])
key.set_xticks([-3, 0, 3])
key.set_xticklabels(["-3", "0", "3"], fontsize=3.4, color="#333333")
key.tick_params(length=1.5, width=0.3, pad=1.5, color="#555555")
for s in key.spines.values():
    s.set_visible(False)
bg.text(37.5, 288, "Row Z-Score", fontsize=3.4, ha="center", va="center", color="#444444")

### dendrograms ###

heat_x0, cell_w = 55.5, (266 - 55.5) / len(samples)
heat_y0, cell_h = 302.7, (1012 - 302.7) / len(proteins)
dendro = []


def draw_col(node):
    if isinstance(node, int):
        return heat_x0 + (node + 0.5) * cell_w, 301.5
    yy, a, b = node
    xa, ya = draw_col(a)
    xb, yb = draw_col(b)
    dendro.extend([[(xa, ya), (xa, yy)], [(xa, yy), (xb, yy)], [(xb, yy), (xb, yb)]])
    return (xa + xb) / 2, yy


def draw_row(node):
    if isinstance(node, int):
        return 54.5, heat_y0 + (node + 0.5) * cell_h
    xx, a, b = node
    xa, ya = draw_row(a)
    xb, yb = draw_row(b)
    dendro.extend([[(xa, ya), (xx, ya)], [(xx, ya), (xx, yb)], [(xx, yb), (xb, yb)]])
    return xx, (ya + yb) / 2


def chain(a, b, left):
    # one cluster block, rows a..b joined one after the other
    node = a
    for i in range(a + 1, b + 1):
        node = (54 - (54 - left) * (i - a) / (b - a), node, i)
    return node


col_tree = (279.3,
            (291.5, 0, (292, 1, (293, 2, (293.5, 3, (295, (296.5, 4, 5), (295.5, 6, 7)))))),
            (279.5, 8, (281.5, 9, (287, 10, 11))))
draw_col(col_tree)

block_a = (45, chain(0, 3, 49), chain(4, 12, 48))
block_b = chain(13, 19, 50)
block_c = (46, chain(20, 22, 48), (47, chain(23, 26, 50), chain(27, 31, 48)))
block_d = chain(32, 54, 49)
block_e = chain(55, 66, 47)
block_f = chain(67, 88, 46.5)
block_g = (43, chain(89, 91, 47), chain(92, 93, 48))
block_h = chain(94, 98, 44)
block_i = chain(99, 102, 44)
block_j = chain(103, 107, 38)
block_k = chain(109, 110, 50)
block_l = chain(111, 114, 44)
block_m = chain(115, 128, 40)
block_n = chain(131, 133, 36)

upper = (41.5, (44.5, block_a, block_b), (42, (44, block_c, (43, block_d, block_e)), block_f))
top_tree = (32, (36, (39, (40, (40.5, upper, block_g), (41, block_h, block_i)), block_j), 108), block_k)
bottom_tree = (33, (36, (37, block_l, block_m), chain(129, 130, 48)), block_n)
row_tree = (2.5, top_tree, bottom_tree)
draw_row(row_tree)
bg.add_collection(LineCollection(dendro, colors="#7a7a7a", linewidths=0.7, zorder=2))

### D: bars ###

ax = px_axes(450, 484, 630, 1009)
colors = [highlighted.get(p, "#c8c8c8") for p in pathways]
ax.barh(pathways, pathway_counts, height=0.68, color=colors, edgecolor="#222222", linewidth=1.0)
ax.set_ylim(56.55, -0.65)
ax.set_xlim(0, 16)
ax.set_xticks([0, 4, 8, 12, 16])
ax.tick_params(axis="x", labelsize=7.8, length=3, width=0.9, pad=1, colors="#222222")
ax.tick_params(axis="y", labelsize=5.2, length=2.5, width=0.7, pad=1.5, colors="#222222")
ax.set_xlabel("Observed count", fontsize=8.4, labelpad=5, color="#222222")
ax.spines["top"].set_visible(False)
ax.spines["right"].set_visible(False)
ax.spines["left"].set_linewidth(0.9)
ax.spines["bottom"].set_linewidth(0.9)
for s in ("left", "bottom"):
    ax.spines[s].set_color("#222222")

fig.savefig("out.png", dpi=100)
